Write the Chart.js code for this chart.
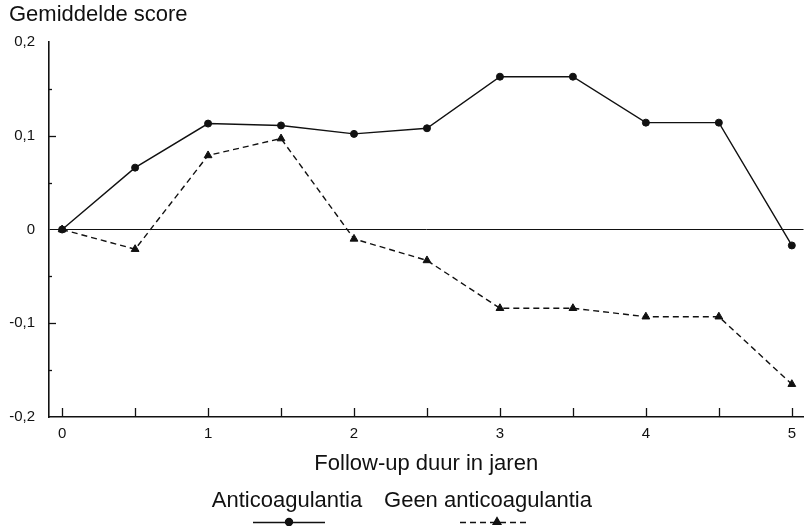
<!DOCTYPE html>
<html>
<head>
<meta charset="utf-8">
<script src="https://cdn.jsdelivr.net/npm/chart.js@4/dist/chart.umd.min.js"></script>
<style>
  html, body { margin: 0; padding: 0; background: #fff; }
  #wrap { width: 809px; height: 526px; }
</style>
</head>
<body>
<div id="wrap"><canvas id="scoreChart"></canvas></div>
<script>
// follow-up in years and the mean score per group
const years = [0, 0.5, 1, 1.5, 2, 2.5, 3, 3.5, 4, 4.5, 5];
const withAc = [0, 0.066, 0.113, 0.111, 0.102, 0.108, 0.163, 0.163, 0.114, 0.114, -0.017];
const withoutAc = [0, -0.021, 0.079, 0.097, -0.010, -0.033, -0.084, -0.084, -0.093, -0.093, -0.165];
const seriesNames = ["Anticoagulantia", "Geen anticoagulantia"];
const xTicks = [0, 0.5, 1, 1.5, 2, 2.5, 3, 3.5, 4, 4.5, 5];
const yTicks = [-0.2, -0.15, -0.1, -0.05, 0, 0.05, 0.1, 0.15, 0.2];

const ink = "#111";
const font = "'Liberation Sans', Arial, Helvetica, sans-serif";

const isTenth = (v) => Math.abs(v * 10 - Math.round(v * 10)) < 1e-6;
const fmt = (v) => (Math.abs(v) < 1e-9 ? "0" : v.toFixed(1).replace(".", ","));

// y-axis heading, inward tick marks and the legend underneath
const extras = {
  id: "extras",
  afterDraw(chart) {
    const { ctx, scales } = chart;
    const x = scales.x, y = scales.y;
    ctx.save();
    ctx.strokeStyle = ink;
    ctx.fillStyle = ink;
    ctx.lineWidth = 1.3;

    ctx.font = "22px " + font;
    ctx.textBaseline = "middle";
    ctx.textAlign = "left";
    ctx.fillText("Gemiddelde score", 9, 15);

    const bottom = y.getPixelForValue(-0.2);
    xTicks.forEach((v) => {
      const px = Math.round(x.getPixelForValue(v)) + 0.5;
      ctx.beginPath();
      ctx.moveTo(px, bottom);
      ctx.lineTo(px, bottom - 9);
      ctx.stroke();
    });

    const left = x.left;
    yTicks.forEach((v) => {
      if (Math.abs(v) < 1e-9 || Math.abs(Math.abs(v) - 0.2) < 1e-9) return;
      const py = Math.round(y.getPixelForValue(v)) + 0.5;
      ctx.beginPath();
      ctx.moveTo(left, py);
      ctx.lineTo(left + (isTenth(v) ? 7 : 3), py);
      ctx.stroke();
    });

    // legend: name above, line sample below
    const items = [
      { text: seriesNames[0], cx: 287, from: 253, to: 325, mark: 289, ds: chart.data.datasets[0] },
      { text: seriesNames[1], cx: 488, from: 460, to: 529, mark: 497, ds: chart.data.datasets[1] },
    ];
    ctx.font = "22px " + font;
    ctx.textAlign = "center";
    items.forEach((it) => {
      ctx.fillText(it.text, it.cx, 501);
      ctx.save();
      ctx.lineWidth = it.ds.borderWidth;
      ctx.setLineDash(it.ds.borderDash || []);
      ctx.beginPath();
      ctx.moveTo(it.from, 522.5);
      ctx.lineTo(it.to, 522.5);
      ctx.stroke();
      ctx.restore();
      Chart.helpers.drawPoint(ctx, { pointStyle: it.ds.pointStyle, radius: it.ds.pointRadius, borderWidth: 1 }, it.mark, 522);
      ctx.fill();
    });
    ctx.restore();
  },
};

new Chart(document.getElementById("scoreChart").getContext("2d"), {
  type: "line",
  data: {
    datasets: [
      {
        label: seriesNames[0],
        data: years.map((t, i) => ({ x: t, y: withAc[i] })),
        borderColor: ink,
        backgroundColor: ink,
        borderWidth: 1.4,
        pointStyle: "circle",
        pointRadius: 3.5,
        pointBorderWidth: 1,
        tension: 0,
      },
      {
        label: seriesNames[1],
        data: years.map((t, i) => ({ x: t, y: withoutAc[i] })),
        borderColor: ink,
        backgroundColor: ink,
        borderWidth: 1.4,
        borderDash: [6, 4],
        pointStyle: "triangle",
        pointRadius: 4.5,
        pointBorderWidth: 1,
        tension: 0,
      },
    ],
  },
  options: {
    responsive: true,
    maintainAspectRatio: false,
    animation: false,
    layout: { padding: { top: 42, right: 0, bottom: 0, left: 0 } },
    plugins: { legend: { display: false }, tooltip: { enabled: false } },
    scales: {
      x: {
        type: "linear",
        min: -0.09,
        max: 5.08,
        afterFit: (s) => { s.height = 109; },
        afterBuildTicks: (s) => { s.ticks = xTicks.map((v) => ({ value: v })); },
        border: { display: true, color: ink, width: 1.6 },
        grid: { drawOnChartArea: false, drawTicks: false },
        ticks: {
          color: ink,
          font: { family: font, size: 15 },
          padding: 8,
          maxRotation: 0,
          autoSkip: false,
          callback: (v) => (Number.isInteger(v) ? String(v) : ""),
        },
        title: {
          display: true,
          text: "Follow-up duur in jaren",
          color: ink,
          font: { family: font, size: 22 },
          padding: { top: 0, bottom: 49 },
        },
      },
      y: {
        min: -0.2,
        max: 0.2,
        afterFit: (s) => { s.width = 49; },
        afterBuildTicks: (s) => { s.ticks = yTicks.map((v) => ({ value: v })); },
        border: { display: true, color: ink, width: 1.6 },
        grid: {
          drawTicks: false,
          color: (c) => (c.tick && Math.abs(c.tick.value) < 1e-9 ? ink : "rgba(0,0,0,0)"),
          lineWidth: 1,
        },
        ticks: {
          color: ink,
          font: { family: font, size: 15 },
          padding: 14,
          autoSkip: false,
          callback: (v) => (isTenth(v) ? fmt(v) : ""),
        },
      },
    },
  },
  plugins: [extras],
});
</script>
</body>
</html>
